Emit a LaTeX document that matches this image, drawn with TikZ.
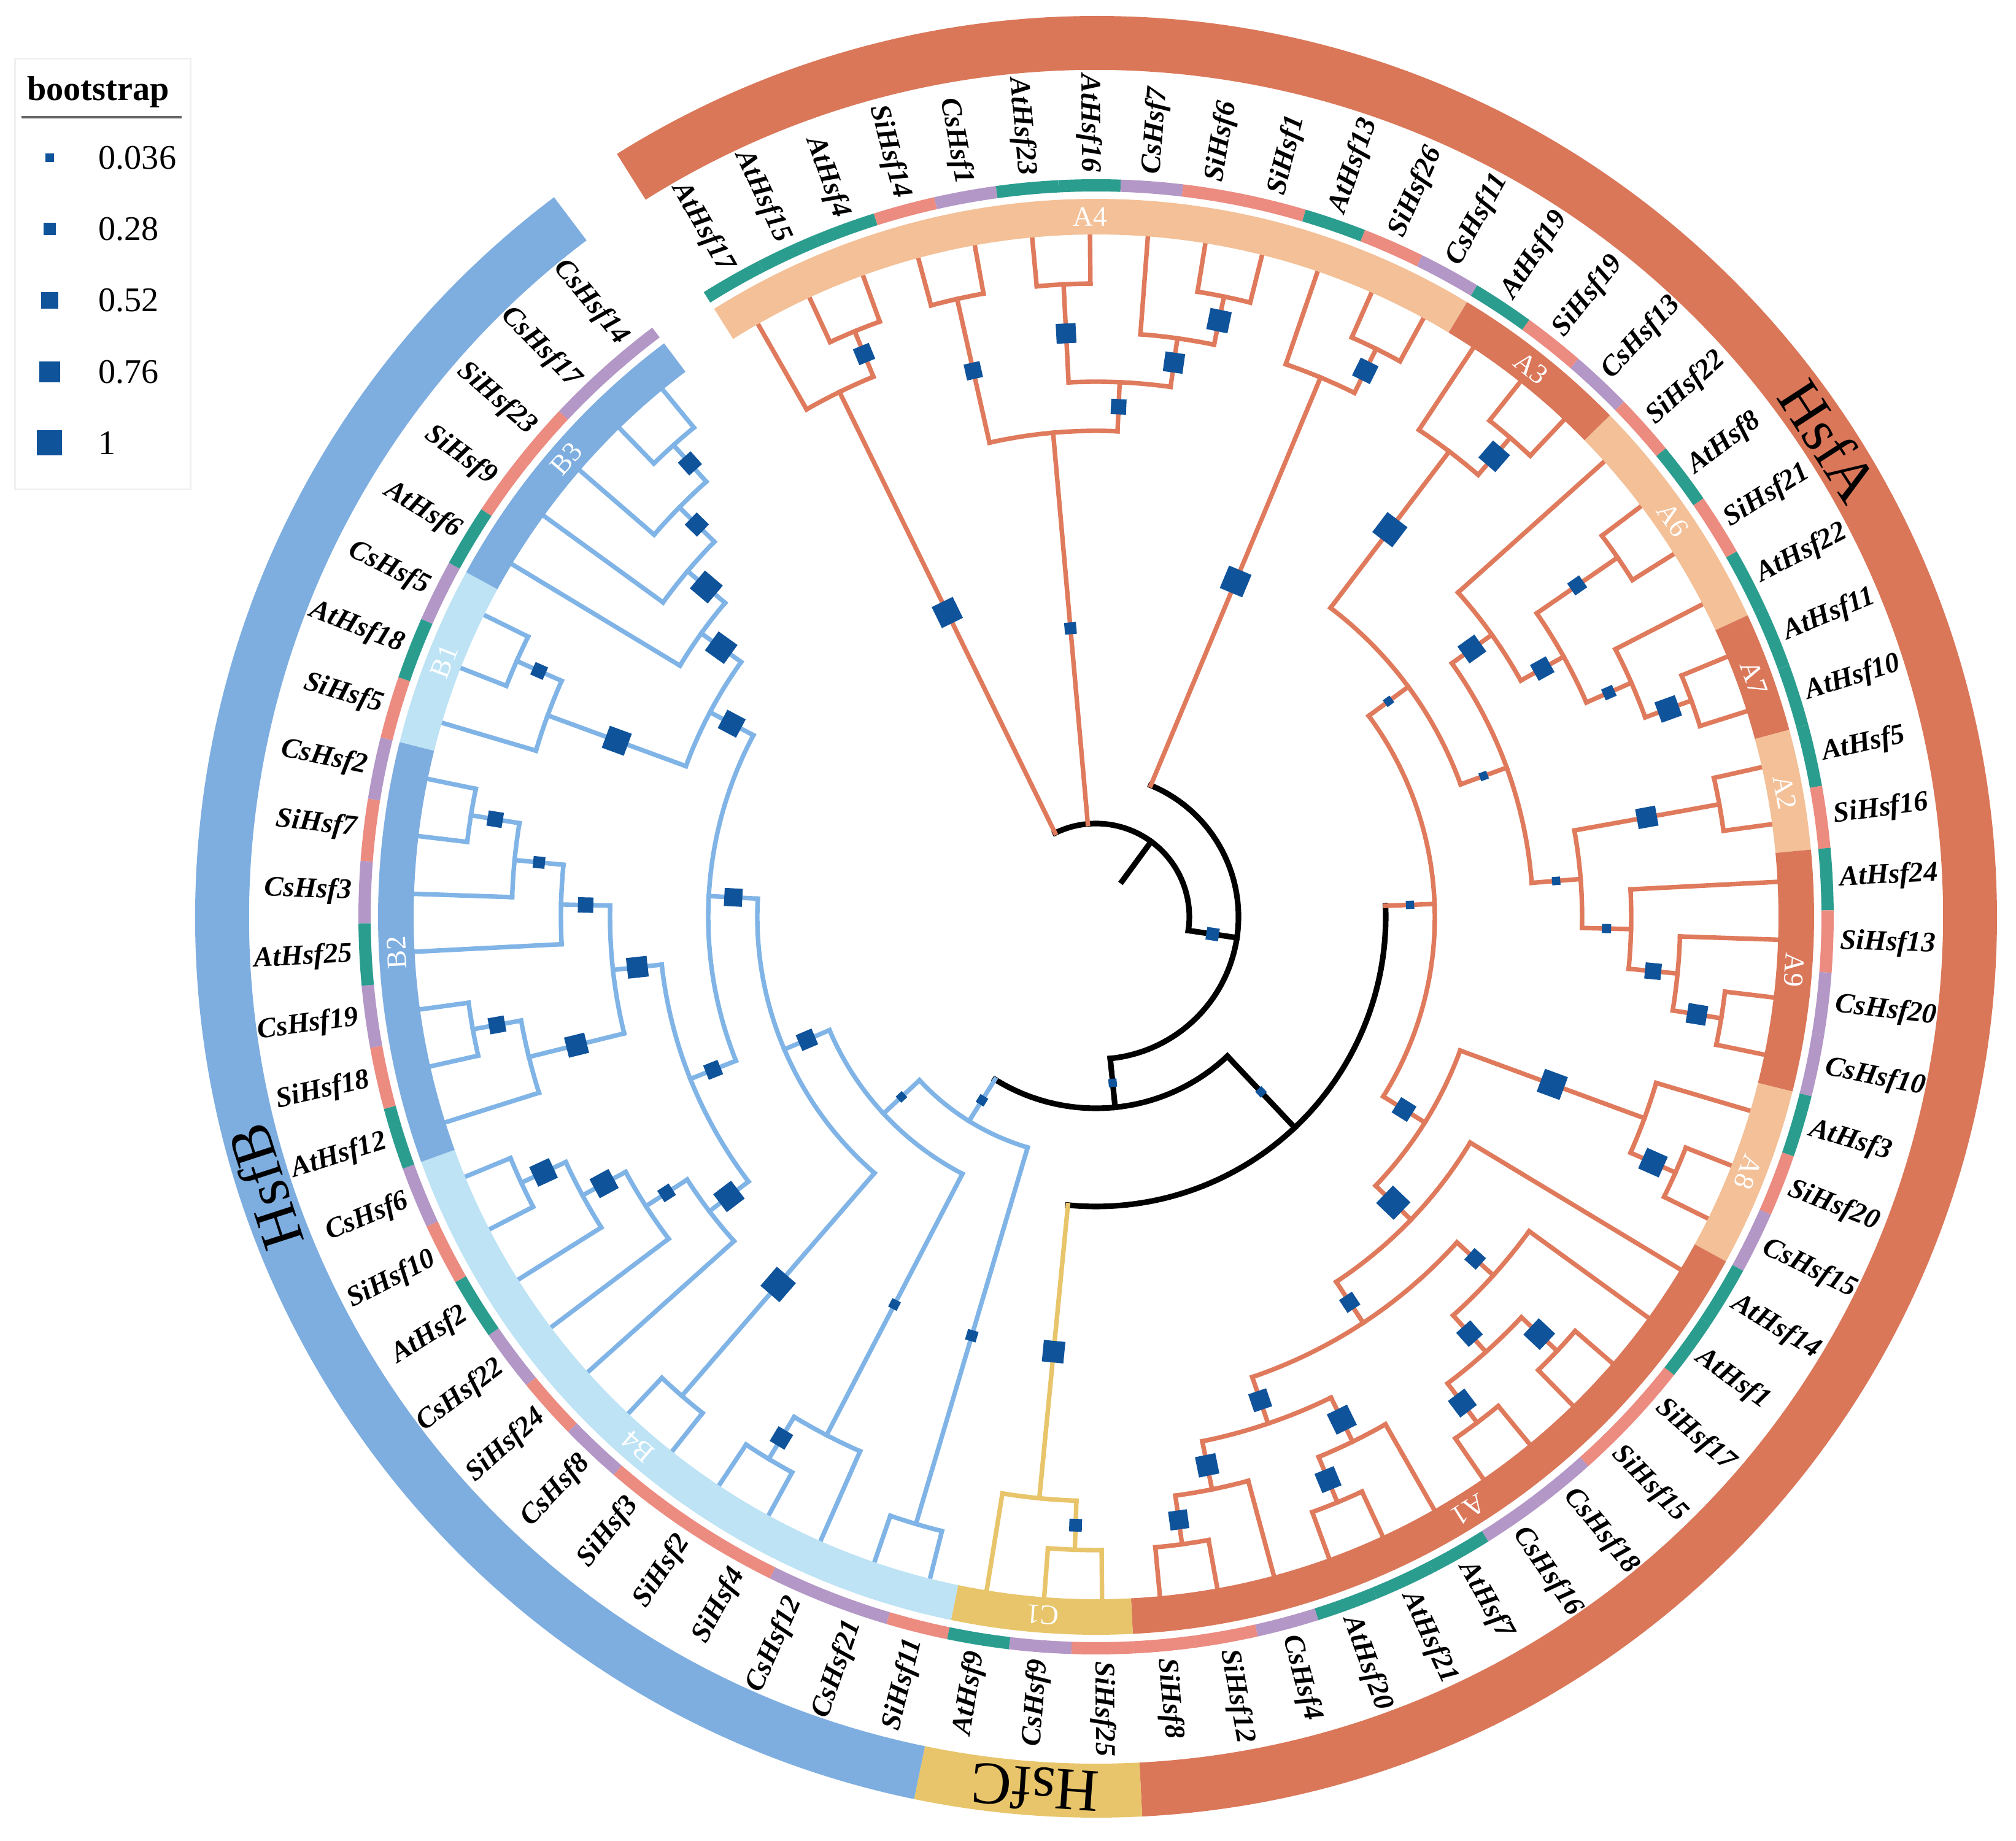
\documentclass[tikz,border=0pt]{standalone}
\usepackage{fontspec}
\setmainfont{Liberation Serif}
\pgfdeclarelayer{fg}
\pgfsetlayers{main,fg}

\definecolor{hsfA}{HTML}{DA7759}
\definecolor{hsfAl}{HTML}{F3C097}
\definecolor{hsfB}{HTML}{7EAEE0}
\definecolor{hsfBl}{HTML}{BDE3F5}
\definecolor{hsfC}{HTML}{E8C56B}
\definecolor{brA}{HTML}{DF7A5C}
\definecolor{brB}{HTML}{80B4E6}
\definecolor{brC}{HTML}{E8C56B}
\definecolor{spAt}{HTML}{2A9D8F}
\definecolor{spSi}{HTML}{EC8B80}
\definecolor{spCs}{HTML}{B397C6}
\definecolor{bsblue}{HTML}{0F539B}

\tikzset{
  brk/.style={draw=black, line width=2.6pt, line cap=rect},
  bra/.style={draw=brA, line width=2.1pt, line cap=rect},
  brb/.style={draw=brB, line width=2.1pt, line cap=rect},
  brc/.style={draw=brC, line width=2.1pt, line cap=rect},
  bsq/.style={fill=bsblue, inner sep=0pt, outer sep=0pt, draw=none},
  leaflab/.style={inner sep=0pt, font=\fontsize{13.2}{16}\selectfont\bfseries\itshape},
  cladelab/.style={text=white, inner sep=0pt, font=\fontsize{13}{15}\selectfont},
  grouplab/.style={inner sep=0pt, font=\fontsize{28}{32}\selectfont},
  leglab/.style={anchor=west, inner sep=0pt, font=\fontsize{16}{19}\selectfont},
}

% values kept per tree node: angle, radius, children, bootstrap
\newcommand\setv[3]{\expandafter\xdef\csname tv@#1@#2\endcsname{#3}}
\newcommand\getv[2]{\csname tv@#1@#2\endcsname}

\newcommand\tnode[5]{%
  \pgfmathsetmacro\tnA{(\getv{a}{#2}+\getv{a}{#3})/2}%
  \pgfmathsetmacro\tnR{11.12-0.8*#4}%
  \setv{a}{#1}{\tnA}\setv{r}{#1}{\tnR}\setv{x}{#1}{#2}\setv{y}{#1}{#3}%
  \ifx\relax#5\relax\else\setv{b}{#1}{#5}\fi
  \coordinate (#1) at (\tnA:\tnR);%
}

\newcommand\branch[3]{%
  \pgfmathsetmacro\brA{\getv{a}{#2}}%
  \pgfmathsetmacro\brP{\getv{r}{#1}}%
  \pgfmathsetmacro\brC{\getv{r}{#2}}%
  \draw[#3] (\brA:\brP) -- (#2);%
  \ifcsname tv@b@#2\endcsname
    \pgfmathsetmacro\brM{(\brP+\brC)/2}%
    \pgfmathsetmacro\brS{0.12+0.29*\getv{b}{#2}}%
    \begin{pgfonlayer}{fg}
      \node[bsq, minimum size=\brS cm, rotate=\brA] at (\brA:\brM) {};
    \end{pgfonlayer}
  \fi
}

\newcommand\clade[4]{%
  \edef\clX{\getv{x}{#1}}\edef\clY{\getv{y}{#1}}%
  \pgfmathsetmacro\clA{\getv{a}{\clX}}%
  \pgfmathsetmacro\clB{\getv{a}{\clY}}%
  \pgfmathsetmacro\clR{\getv{r}{#1}}%
  \draw[#2] (\clA:\clR) arc[start angle=\clA, end angle=\clB, radius=\clR];%
  \branch{#1}{\clX}{#3}\branch{#1}{\clY}{#4}%
}
\newcommand\cl[2]{\clade{#1}{#2}{#2}{#2}}

\newcommand\ringseg[5]{%
  \pgfmathsetmacro\rsS{119.7-4.865*#1+2.4325}%
  \pgfmathsetmacro\rsE{119.7-4.865*#2-2.4325}%
  \fill[#5] (\rsS:#3) arc[start angle=\rsS, end angle=\rsE, radius=#3]
    -- (\rsE:#4) arc[start angle=\rsE, end angle=\rsS, radius=#4] -- cycle;%
}
\newcommand\ringlab[3]{%
  \pgfmathsetmacro\rlA{119.7-4.865*(#1+#2)/2}%
  \pgfmathsetmacro\rlR{\rlA-90}%
  \node[cladelab, rotate=\rlR] (cl#3) at (\rlA:11.41) {#3};%
}

\begin{document}
\begin{tikzpicture}
\useasboundingbox (-17.86,-15.05) rectangle (14.99,14.94);

% leaves, species ring and leaf labels
\foreach \sp/\nm [count=\i from 0] in {At/17,At/15,At/4,Si/14,Cs/1,At/23,At/16,Cs/7,Si/6,Si/1,
  At/13,Si/26,Cs/11,At/19,Si/19,Cs/13,Si/22,At/8,Si/21,At/22,At/11,At/10,At/5,Si/16,At/24,
  Si/13,Cs/20,Cs/10,At/3,Si/20,Cs/15,At/14,At/1,Si/17,Si/15,Cs/18,Cs/16,At/7,At/21,At/20,
  Cs/4,Si/12,Si/8,Si/25,Cs/9,At/9,Si/11,Cs/21,Cs/12,Si/4,Si/2,Si/3,Cs/8,Si/24,Cs/22,At/2,
  Si/10,Cs/6,At/12,Si/18,Cs/19,At/25,Cs/3,Si/7,Cs/2,Si/5,At/18,Cs/5,At/6,Si/9,Si/23,Cs/17,Cs/14} {
  \pgfmathsetmacro\lfA{119.7-4.865*\i}
  \setv{a}{L\i}{\lfA}\setv{r}{L\i}{11.12}
  \coordinate (L\i) at (\lfA:11.12);
  \ringseg{\i}{\i}{11.82}{12.02}{sp\sp}
  \pgfmathsetmacro\lfC{cos(\lfA)}
  \ifdim\lfC pt<0pt
    \pgfmathsetmacro\lfR{\lfA+180}
    \node[leaflab, anchor=east, rotate=\lfR] (t\i) at (\lfA:12.13) {\sp Hsf\nm};
  \else
    \node[leaflab, anchor=west, rotate=\lfA] (t\i) at (\lfA:12.13) {\sp Hsf\nm};
  \fi
}

% tree nodes: name, child, child, height, bootstrap
\tnode{n12}{L1}{L2}{1}{0.55}
\tnode{nX1}{L0}{n12}{2}{0.9}
\tnode{n34}{L3}{L4}{1}{0.5}
\tnode{n56}{L5}{L6}{1}{0.7}
\tnode{n89}{L8}{L9}{1}{0.8}
\tnode{nW}{L7}{n89}{2}{0.7}
\tnode{nZ}{n56}{nW}{3}{0.45}
\tnode{nY}{n34}{nZ}{4}{0.25}
\tnode{n1112}{L11}{L12}{1}{0.7}
\tnode{nT}{L10}{n1112}{2}{0.95}
\tnode{n1415}{L14}{L15}{1}{0.85}
\tnode{nA3}{L13}{n1415}{2}{1}
\tnode{n1718}{L17}{L18}{1}{0.4}
\tnode{n2021}{L20}{L21}{1}{0.8}
\tnode{nN5}{L19}{n2021}{2}{0.25}
\tnode{nN3}{n1718}{nN5}{3}{0.6}
\tnode{nN2}{L16}{nN3}{4}{0.75}
\tnode{nA2}{L22}{L23}{1}{0.72}
\tnode{n2627}{L26}{L27}{1}{0.7}
\tnode{nJ}{L25}{n2627}{2}{0.5}
\tnode{nA9}{L24}{nJ}{3}{0.1}
\tnode{nH}{nA2}{nA9}{4}{0.05}
\tnode{nK}{nN2}{nH}{5}{0.05}
\tnode{nX}{nA3}{nK}{6}{0.05}
\tnode{n2930}{L29}{L30}{1}{0.85}
\tnode{nA8}{L28}{n2930}{2}{0.95}
\tnode{n3334}{L33}{L34}{1}{0.85}
\tnode{n3536}{L35}{L36}{1}{0.75}
\tnode{nP2}{n3334}{n3536}{2}{0.65}
\tnode{nP}{L32}{nP2}{3}{0.45}
\tnode{n3839}{L38}{L39}{1}{0.75}
\tnode{nR1}{L37}{n3839}{2}{0.85}
\tnode{n4142}{L41}{L42}{1}{0.65}
\tnode{nR2}{L40}{n4142}{2}{0.75}
\tnode{nR}{nR1}{nR2}{3}{0.65}
\tnode{nN}{nP}{nR}{4}{0.45}
\tnode{nM}{L31}{nN}{5}{0.95}
\tnode{nG}{nA8}{nM}{6}{0.6}
\tnode{nE}{nX}{nG}{7}{0.05}
\tnode{n4344}{L43}{L44}{1}{0.3}
\tnode{nC1}{n4344}{L45}{2}{0.8}
\tnode{nD}{nE}{nC1}{8}{0.05}
\tnode{n4647}{L46}{L47}{1}{0.2}
\tnode{n4950}{L49}{L50}{1}{0.55}
\tnode{nB48}{L48}{n4950}{2}{0.12}
\tnode{n5152}{L51}{L52}{1}{1}
\tnode{n5657}{L56}{L57}{1}{0.8}
\tnode{nB55}{L55}{n5657}{2}{0.8}
\tnode{nB54}{L54}{nB55}{3}{0.35}
\tnode{nB4x}{L53}{nB54}{4}{0.85}
\tnode{n6364}{L63}{L64}{1}{0.45}
\tnode{nB62}{L62}{n6364}{2}{0.25}
\tnode{nB61}{L61}{nB62}{3}{0.45}
\tnode{n5960}{L59}{L60}{1}{0.5}
\tnode{nQ}{L58}{n5960}{2}{0.75}
\tnode{nB4y}{nQ}{nB61}{4}{0.75}
\tnode{nB5b}{nB4x}{nB4y}{5}{0.45}
\tnode{n6667}{L66}{L67}{1}{0.35}
\tnode{nB1}{L65}{n6667}{2}{0.9}
\tnode{n7172}{L71}{L72}{1}{0.55}
\tnode{nB70}{L70}{n7172}{2}{0.55}
\tnode{nB69}{L69}{nB70}{3}{0.9}
\tnode{nB3}{L68}{nB69}{4}{0.9}
\tnode{nB5}{nB1}{nB3}{5}{0.75}
\tnode{nB6}{nB5b}{nB5}{6}{0.6}
\tnode{nB7}{n5152}{nB6}{7}{0.55}
\tnode{nB8}{nB48}{nB7}{8}{0.05}
\tnode{nBr}{n4647}{nB8}{9}{0.1}
\tnode{nC}{nBr}{nD}{10}{0.05}
\tnode{nB}{nT}{nC}{11}{0.3}
\tnode{nA}{nX1}{nB}{12}{}

% branches
\foreach \n in {n12,nX1,n34,n56,n89,nW,nZ,nY,n1112,nT,n1415,nA3,n1718,n2021,nN5,nN3,nN2,
  nA2,n2627,nJ,nA9,nH,nK,nX,n2930,nA8,n3334,n3536,nP2,nP,n3839,nR1,n4142,nR2,nR,nN,nM,nG,nE}
  {\cl{\n}{bra}}
\foreach \n in {n4344,nC1} {\cl{\n}{brc}}
\foreach \n in {n4647,n4950,nB48,n5152,n5657,nB55,nB54,nB4x,n6364,nB62,nB61,n5960,nQ,
  nB4y,nB5b,n6667,nB1,n7172,nB70,nB69,nB3,nB5,nB6,nB7,nB8,nBr}
  {\cl{\n}{brb}}
\clade{nD}{brk}{bra}{brc}
\clade{nC}{brk}{brb}{brk}
\clade{nB}{brk}{bra}{brk}
\clade{nA}{brk}{bra}{brk}
\branch{nA}{nY}{bra}
\pgfmathsetmacro\rtA{\getv{a}{nA}}
\coordinate (nRoot) at (\rtA:0.72);
\draw[brk] (nRoot) -- (nA);

% clade ring
\ringseg{0}{12}{11.12}{11.70}{hsfAl}
\ringseg{13}{15}{11.12}{11.70}{hsfA}
\ringseg{16}{19}{11.12}{11.70}{hsfAl}
\ringseg{20}{21}{11.12}{11.70}{hsfA}
\ringseg{22}{23}{11.12}{11.70}{hsfAl}
\ringseg{24}{27}{11.12}{11.70}{hsfA}
\ringseg{28}{30}{11.12}{11.70}{hsfAl}
\ringseg{31}{42}{11.12}{11.70}{hsfA}
\ringseg{43}{45}{11.12}{11.70}{hsfC}
\ringseg{46}{57}{11.12}{11.70}{hsfBl}
\ringseg{58}{64}{11.12}{11.70}{hsfB}
\ringseg{65}{67}{11.12}{11.70}{hsfBl}
\ringseg{68}{72}{11.12}{11.70}{hsfB}
\ringlab{0}{12}{A4}
\ringlab{13}{15}{A3}
\ringlab{16}{19}{A6}
\ringlab{20}{21}{A7}
\ringlab{22}{23}{A2}
\ringlab{24}{27}{A9}
\ringlab{28}{30}{A8}
\ringlab{31}{42}{A1}
\ringlab{43}{45}{C1}
\ringlab{46}{57}{B4}
\ringlab{58}{64}{B2}
\ringlab{65}{67}{B1}
\ringlab{68}{72}{B3}

% family ring
\ringseg{0}{42}{13.80}{14.68}{hsfA}
\ringseg{43}{45}{13.80}{14.68}{hsfC}
\ringseg{46}{72}{13.80}{14.68}{hsfB}
\node[grouplab, rotate=-57] (gA) at (33:14.24) {HsfA};
\node[grouplab, rotate=108] (gB) at (198:14.24) {HsfB};
\node[grouplab, rotate=-184] (gC) at (-94:14.24) {HsfC};

% legend
\node[draw=black!6, line width=0.8pt, minimum width=2.86cm, minimum height=7.02cm,
  inner sep=0pt, anchor=north west] (legbox) at (-17.63,14.00) {};
\node[font=\fontsize{16}{19}\selectfont\bfseries, inner sep=0pt] (legtitle) at (-16.26,13.44) {bootstrap};
\coordinate (legl) at (-17.51,13.03);
\coordinate (legr) at (-14.90,13.03);
\draw[black!60, line width=1pt] (legl) -- (legr);
\foreach \v [count=\k from 0] in {0.036,0.28,0.52,0.76,1} {
  \pgfmathsetmacro\lgY{12.37-1.1625*\k}
  \pgfmathsetmacro\lgS{0.12+0.29*\v}
  \node[bsq, minimum size=\lgS cm] (legsq\k) at (-17.05,\lgY) {};
  \node[leglab] (legtx\k) at (-16.26,\lgY) {\v};
}
\end{tikzpicture}
\end{document}
